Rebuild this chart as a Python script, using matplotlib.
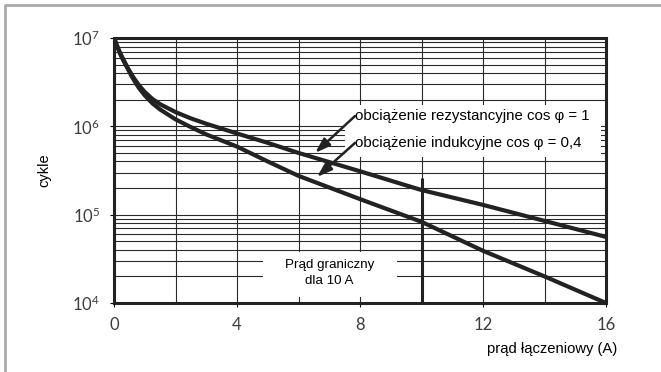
import numpy as np
import matplotlib
matplotlib.use('Agg')
import matplotlib.pyplot as plt
from matplotlib.ticker import FixedLocator, LogLocator, FuncFormatter
from matplotlib.patches import Rectangle
from matplotlib.lines import Line2D

# switching current (A)
prad = [0, 0.1, 0.2, 0.3, 0.45, 0.6, 0.8, 1.0, 1.25, 1.5, 2, 2.5, 3, 4, 5, 6,
        8, 10, 12, 14, 16]
# cycles, resistive load cos phi = 1
cykle_rez = [1e7, 8.13e6, 6.76e6, 5.75e6, 4.57e6, 3.72e6, 2.95e6, 2.45e6, 2.04e6,
             1.78e6, 1.45e6, 1.23e6, 1.07e6, 8.3e5, 6.5e5, 5.0e5, 3.1e5, 1.9e5,
             1.29e5, 8.5e4, 5.6e4]
# cycles, inductive load cos phi = 0.4
cykle_ind = [1e7, 8.13e6, 6.6e6, 5.6e6, 4.47e6, 3.55e6, 2.75e6, 2.24e6, 1.82e6,
             1.55e6, 1.2e6, 9.8e5, 8.1e5, 5.9e5, 4.0e5, 2.75e5, 1.5e5, 8.3e4,
             3.9e4, 2.0e4, 1.0e4]

prad_graniczny = 10
cykle_graniczne = 2.6e5

x_ticks = [0, 4, 8, 12, 16]
x_grid = [2, 6, 10, 14]

narrow = ['Liberation Sans Narrow', 'Liberation Sans', 'DejaVu Sans']
ink = '#222222'
plt.rcParams['mathtext.fontset'] = 'custom'
plt.rcParams['mathtext.rm'] = 'Lato'

fig = plt.figure(figsize=(6.61, 3.72), dpi=100)
ax = fig.add_axes([114/661, 1-303/372, 492/661, 265/372])

ax.set_yscale('log')
ax.set_xlim(0, 16)
ax.set_ylim(1e4, 1e7)

ax.xaxis.set_major_locator(FixedLocator(x_ticks))
ax.xaxis.set_minor_locator(FixedLocator(x_grid))
ax.yaxis.set_major_locator(LogLocator(base=10))
ax.yaxis.set_minor_locator(LogLocator(base=10, subs=np.arange(2, 10)))
ax.yaxis.set_major_formatter(FuncFormatter(lambda v, p: r'$\mathregular{10^{%d}}$' % round(np.log10(v))))
ax.yaxis.set_minor_formatter(FuncFormatter(lambda v, p: ''))

ax.grid(which='both', axis='both', color='#2a2a2a', linewidth=0.8)
ax.tick_params(which='major', direction='out', length=3, width=0.8,
               labelsize=12, labelcolor='#3c3c3c', pad=7)
ax.tick_params(which='minor', length=0)
for lab in ax.get_xticklabels() + ax.get_yticklabels():
    lab.set_family('Lato')

for s in ax.spines.values():
    s.set_linewidth(2.2)
    s.set_color(ink)

# white boxes behind the annotations
ax.add_patch(Rectangle((7.5, 4.5e5), 8.33, 1.75e6-4.5e5, facecolor='white',
                       edgecolor='none', zorder=2))
ax.add_patch(Rectangle((4.85, 1.17e4), 4.35, 3.75e4-1.17e4, facecolor='white',
                       edgecolor='none', zorder=2))

ax.plot(prad, cykle_rez, color=ink, linewidth=3, zorder=3, solid_joinstyle='round')
ax.plot(prad, cykle_ind, color=ink, linewidth=3, zorder=3, solid_joinstyle='round')
ax.vlines(prad_graniczny, 1e4, cykle_graniczne, color=ink, linewidth=2.2, zorder=3)

ax.text(7.85, 1.31e6, 'obciążenie rezystancyjne cos φ = 1', fontsize=10.8,
        family=narrow, ha='left', va='center', zorder=4)
ax.text(7.85, 6.5e5, 'obciążenie indukcyjne cos φ = 0,4', fontsize=10.8,
        family=narrow, ha='left', va='center', zorder=4)
arrow = dict(arrowstyle='-|>,head_length=0.9,head_width=0.3', color=ink,
             linewidth=1.8, shrinkA=0, shrinkB=0)
ax.annotate('', xy=(6.54, 5.0e5), xytext=(7.84, 1.31e6), arrowprops=arrow, zorder=4)
ax.annotate('', xy=(6.6, 2.67e5), xytext=(7.84, 6.5e5), arrowprops=arrow, zorder=4)

ax.text(7.0, 2.2e4, 'Prąd graniczny\ndla 10 A', fontsize=9.6, family=narrow,
        ha='center', va='center', linespacing=1.4, zorder=4)

fig.text(44/661, 1-170/372, 'cykle', rotation=90, fontsize=10.5, family=narrow,
         ha='center', va='center')
fig.text(617/661, 1-349/372, 'prąd łączeniowy (A)', fontsize=10.6, family=narrow,
         ha='right', va='center')

# light frame along the top and left edge
fig.add_artist(Line2D([5/661, 5/661, 1], [0, 1-5/372, 1-5/372],
                      transform=fig.transFigure, color='#aaaaaa', linewidth=2))

fig.savefig('out.png', dpi=100)
